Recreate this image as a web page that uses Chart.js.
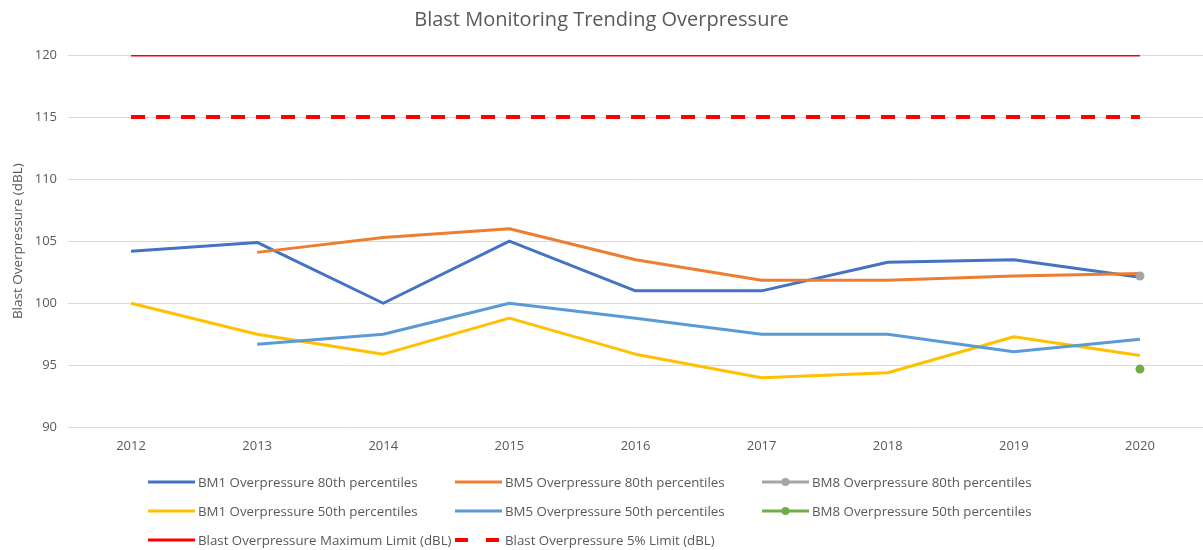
<!DOCTYPE html>
<html>
<head>
<meta charset="utf-8">
<script src="https://cdn.jsdelivr.net/npm/chart.js@4.4.0/dist/chart.umd.min.js"></script>
<style>
    body { margin: 0; background: #fff; font-family: "Open Sans", sans-serif; }
    #wrap { position: relative; width: 1203px; height: 550px; }
    #legend {
        position: absolute; left: 148px; top: 467px;
        display: grid; grid-template-columns: 307px 307px 307px;
        grid-auto-rows: 29px;
    }
    .legend-item { display: flex; align-items: center; font-size: 13.3px; color: #595959; white-space: nowrap; }
    .legend-item canvas { margin-right: 3px; }
</style>
</head>
<body>
<div id="wrap">
    <canvas id="blastChart" width="1203" height="550"></canvas>
    <div id="legend"></div>
</div>
<script>
const years = ['2012', '2013', '2014', '2015', '2016', '2017', '2018', '2019', '2020'];

const bm1P80 = [104.2, 104.9, 100.0, 105.0, 101.0, 101.0, 103.3, 103.5, 102.1];
const bm5P80 = [null, 104.1, 105.3, 106.0, 103.5, 101.85, 101.85, 102.2, 102.4];
const bm8P80 = [null, null, null, null, null, null, null, null, 102.2];
const bm1P50 = [100.0, 97.5, 95.9, 98.8, 95.9, 94.0, 94.4, 97.3, 95.8];
const bm5P50 = [null, 96.7, 97.5, 100.0, 98.8, 97.5, 97.5, 96.1, 97.1];
const bm8P50 = [null, null, null, null, null, null, null, null, 94.7];
const maxLimit = [120, 120, 120, 120, 120, 120, 120, 120, 120];
const fivePctLimit = [115, 115, 115, 115, 115, 115, 115, 115, 115];

const yTicks = [90, 95, 100, 105, 110, 115, 120];

let blastChart;

document.addEventListener('DOMContentLoaded', function() {
    createChart();
    buildLegend();
});

function lineSeries(label, data, color, index, extra) {
    return Object.assign({
        label: label,
        data: data,
        borderColor: color,
        backgroundColor: color,
        borderWidth: 3,
        pointRadius: 0,
        pointHoverRadius: 0,
        tension: 0,
        borderJoinStyle: 'round',
        order: 20 - index
    }, extra || {});
}

function createChart() {
    const ctx = document.getElementById('blastChart').getContext('2d');

    blastChart = new Chart(ctx, {
        type: 'line',
        data: {
            labels: years,
            datasets: [
                lineSeries('BM1 Overpressure 80th percentiles', bm1P80, '#4472C4', 0),
                lineSeries('BM5 Overpressure 80th percentiles', bm5P80, '#ED7D31', 1),
                lineSeries('BM8 Overpressure 80th percentiles', bm8P80, '#A5A5A5', 2, { pointRadius: 4.5, pointBorderWidth: 0 }),
                lineSeries('BM1 Overpressure 50th percentiles', bm1P50, '#FFC000', 3),
                lineSeries('BM5 Overpressure 50th percentiles', bm5P50, '#5B9BD5', 4),
                lineSeries('BM8 Overpressure 50th percentiles', bm8P50, '#70AD47', 5, { pointRadius: 4.5, pointBorderWidth: 0 }),
                lineSeries('Blast Overpressure Maximum Limit (dBL)', maxLimit, '#FF0000', 6, { borderWidth: 2.8 }),
                lineSeries('Blast Overpressure 5% Limit (dBL)', fivePctLimit, '#FF0000', 7, { borderWidth: 4, borderDash: [14, 11], borderCapStyle: 'butt' })
            ]
        },
        options: {
            responsive: false,
            animation: false,
            layout: {
                autoPadding: false,
                padding: { left: 0, right: 0, top: 0, bottom: 85 }
            },
            scales: {
                x: {
                    offset: true,
                    grid: { display: false, drawTicks: false },
                    border: { display: false },
                    ticks: {
                        color: '#595959',
                        padding: 11,
                        maxRotation: 0,
                        font: { family: 'Open Sans', size: 13 }
                    }
                },
                y: {
                    min: 90,
                    max: 120,
                    afterFit: function(scale) { scale.width = 68; },
                    afterBuildTicks: function(scale) {
                        scale.ticks = yTicks.map(v => ({ value: v }));
                    },
                    grid: { color: '#D9D9D9', lineWidth: 1, drawTicks: false },
                    border: { display: false },
                    ticks: {
                        color: '#595959',
                        padding: 11,
                        font: { family: 'Open Sans', size: 13 }
                    },
                    title: {
                        display: true,
                        text: 'Blast Overpressure (dBL)',
                        color: '#595959',
                        padding: { top: 10, bottom: 0 },
                        font: { family: 'Open Sans', size: 13.5 }
                    }
                }
            },
            plugins: {
                title: {
                    display: true,
                    text: 'Blast Monitoring Trending Overpressure',
                    color: '#595959',
                    padding: { top: 8, bottom: 23 },
                    font: { family: 'Open Sans', size: 20, weight: 'normal' }
                },
                legend: { display: false },
                tooltip: { enabled: false }
            }
        }
    });
}

function buildLegend() {
    const legend = document.getElementById('legend');
    legend.innerHTML = '';

    blastChart.data.datasets.forEach(ds => {
        const item = document.createElement('div');
        item.className = 'legend-item';

        const sample = document.createElement('canvas');
        sample.width = 47;
        sample.height = 12;
        const c = sample.getContext('2d');
        c.strokeStyle = ds.borderColor;
        c.lineWidth = ds.borderWidth;
        c.setLineDash(ds.borderDash ? [13, 18] : []);
        c.beginPath();
        c.moveTo(0, 6);
        c.lineTo(47, 6);
        c.stroke();
        if (ds.pointRadius > 0) {
            c.fillStyle = ds.borderColor;
            c.beginPath();
            c.arc(23.5, 6, 4, 0, Math.PI * 2);
            c.fill();
        }

        const text = document.createElement('span');
        text.textContent = ds.label;

        item.appendChild(sample);
        item.appendChild(text);
        legend.appendChild(item);
    });
}
</script>
</body>
</html>
